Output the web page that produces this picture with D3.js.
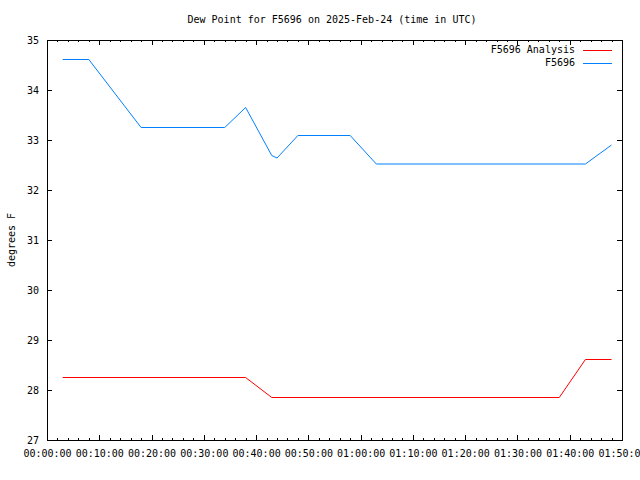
<!DOCTYPE html>
<html>
<head>
<meta charset="utf-8">
<script src="https://cdn.jsdelivr.net/npm/d3@7"></script>
<style>
  html, body { margin: 0; padding: 0; background: #fff; }
  svg { display: block; }
  text { font-family: "DejaVu Sans Mono", "Liberation Mono", monospace; font-size: 10px; fill: #000; }
</style>
</head>
<body>
<svg id="chart" width="640" height="480"></svg>
<script>
// ---- data ----
const analysisTimes  = ["00:03:00", "00:38:00", "00:43:00", "01:38:00", "01:43:00", "01:48:00"];
const analysisValues = [28.25, 28.25, 27.85, 27.85, 28.61, 28.61];

const obsTimes  = ["00:03:00", "00:08:00", "00:18:00", "00:34:00", "00:38:00", "00:43:00", "00:44:00", "00:48:00", "00:58:00", "01:03:00", "01:43:00", "01:48:00"];
const obsValues = [34.61, 34.61, 33.25, 33.25, 33.65, 32.69, 32.64, 33.09, 33.09, 32.52, 32.52, 32.90];

const yTicks = [27, 28, 29, 30, 31, 32, 33, 34, 35];
const xDomain = ["00:00:00", "01:50:00"];

const titleText = "Dew Point for F5696 on 2025-Feb-24 (time in UTC)";
const yLabel = "degrees F";
const seriesNames = ["F5696 Analysis", "F5696"];
const seriesColors = ["#ff0000", "#0080ff"];

// ---- layout ----
const W = 640, H = 480;
const m = { left: 47, right: 18, top: 40, bottom: 40 };
const pw = W - m.left - m.right, ph = H - m.top - m.bottom;

const parse = d3.utcParse("%H:%M:%S");
const svg = d3.select("#chart");
const g = svg.append("g").attr("transform", `translate(${m.left},${m.top})`);

const x = d3.scaleUtc().domain(xDomain.map(parse)).range([0, pw]);
const y = d3.scaleLinear().domain([27, 35]).range([ph, 0]);

const majorX = d3.utcMinute.every(10).range(parse("00:00:00"), d3.utcSecond.offset(parse("01:50:00"), 1));
const minorX = d3.utcMinute.every(2).range(parse("00:00:00"), d3.utcSecond.offset(parse("01:50:00"), 1));
const fmt = d3.utcFormat("%H:%M:%S");

function styleAxis(sel) {
  sel.select(".domain").remove();
  sel.selectAll(".tick line").attr("stroke", "#000").attr("shape-rendering", "crispEdges");
}

// bottom major ticks with labels
g.append("g").attr("transform", `translate(0,${ph})`)
  .call(d3.axisBottom(x).tickValues(majorX).tickFormat(fmt).tickSize(-5).tickPadding(10))
  .call(styleAxis);
// bottom minor
g.append("g").attr("transform", `translate(0,${ph})`)
  .call(d3.axisBottom(x).tickValues(minorX).tickFormat("").tickSize(-2))
  .call(styleAxis);
// top mirror
g.append("g")
  .call(d3.axisTop(x).tickValues(majorX).tickFormat("").tickSize(-5))
  .call(styleAxis);
g.append("g")
  .call(d3.axisTop(x).tickValues(minorX).tickFormat("").tickSize(-2))
  .call(styleAxis);
// left
g.append("g")
  .call(d3.axisLeft(y).tickValues(yTicks).tickFormat(d3.format("d")).tickSize(-5).tickPadding(8))
  .call(styleAxis);
// right mirror
g.append("g").attr("transform", `translate(${pw},0)`)
  .call(d3.axisRight(y).tickValues(yTicks).tickFormat("").tickSize(-5))
  .call(styleAxis);

svg.selectAll(".tick text").attr("font-family", null).attr("font-size", null);

// border
g.append("rect").attr("x", 0).attr("y", 0).attr("width", pw).attr("height", ph)
  .attr("fill", "none").attr("stroke", "#000").attr("shape-rendering", "crispEdges");

// lines
const line = d3.line().x(d => x(d.t)).y(d => y(d.v));
const series = [
  analysisTimes.map((t, i) => ({ t: parse(t), v: analysisValues[i] })),
  obsTimes.map((t, i) => ({ t: parse(t), v: obsValues[i] }))
];
series.forEach((s, i) => {
  g.append("path").datum(s).attr("d", line)
    .attr("fill", "none").attr("stroke", seriesColors[i]).attr("stroke-width", 1);
});

// title
svg.append("text").attr("x", 332).attr("y", 20).attr("text-anchor", "middle")
  .attr("dominant-baseline", "middle").text(titleText);

// y label
svg.append("text").attr("transform", "translate(12,240) rotate(-90)")
  .attr("text-anchor", "middle").attr("dominant-baseline", "middle").text(yLabel);

// legend
seriesNames.forEach((name, i) => {
  const ly = 50 + i * 13;
  svg.append("text").attr("x", 575).attr("y", ly).attr("text-anchor", "end")
    .attr("dominant-baseline", "middle").text(name);
  svg.append("line").attr("x1", 583).attr("x2", 612).attr("y1", ly).attr("y2", ly)
    .attr("stroke", seriesColors[i]).attr("shape-rendering", "crispEdges");
});
</script>
</body>
</html>
